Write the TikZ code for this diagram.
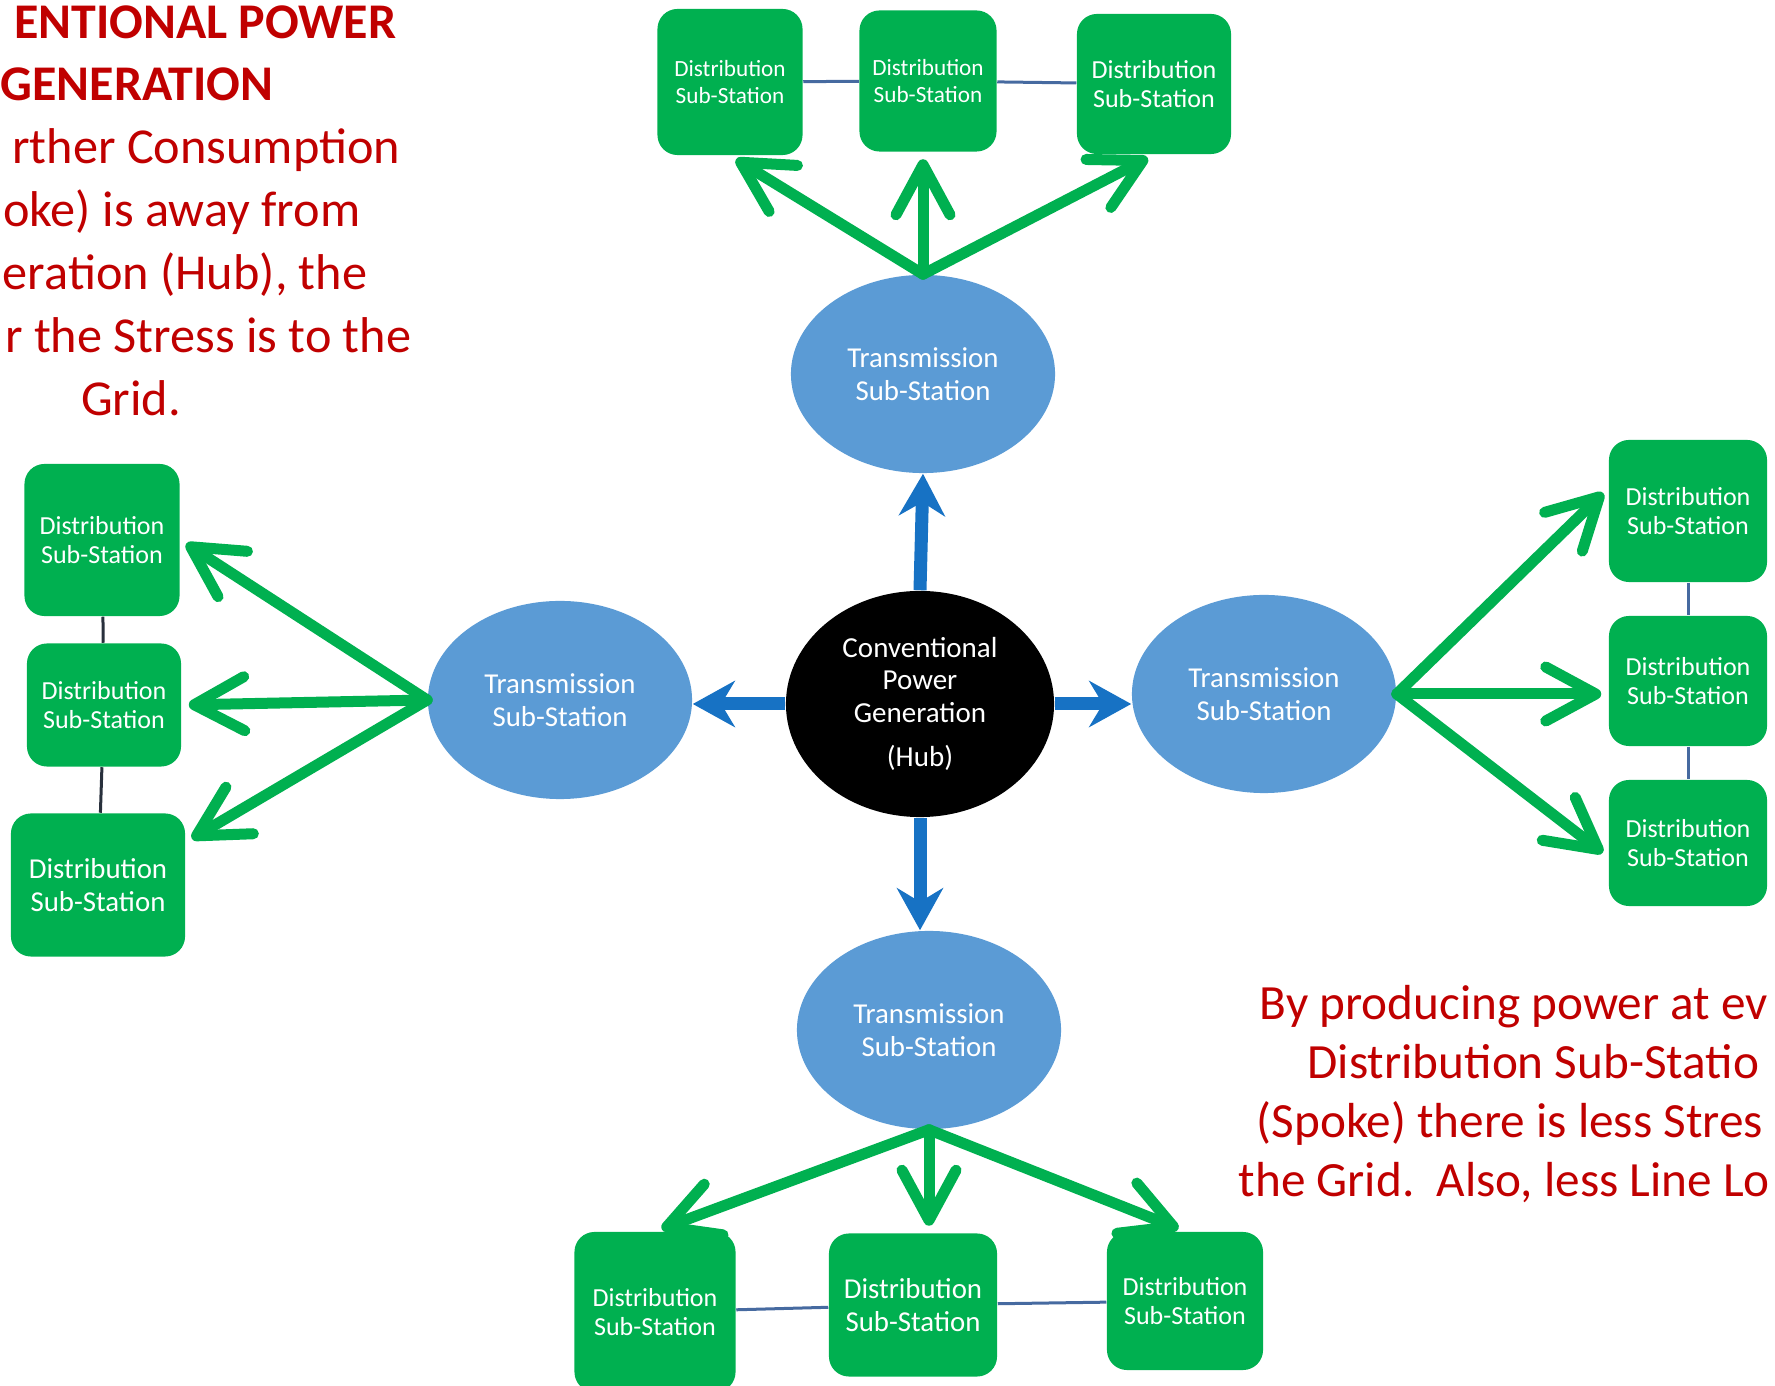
\documentclass[tikz,border=0pt]{standalone}
\usepackage{fontspec}
\setmainfont{Carlito}
\usepackage{xcolor}
\usepackage{tikz}
\usetikzlibrary{arrows.meta, shapes.geometric}

\definecolor{boxgreen}{RGB}{0,176,80}
\definecolor{ovalblue}{RGB}{91,155,213}
\definecolor{arrowblue}{RGB}{23,114,196}
\definecolor{notered}{RGB}{192,0,0}
\definecolor{linkblue}{RGB}{70,106,160}
\definecolor{linkdark}{RGB}{40,48,60}

\begin{document}
\begin{tikzpicture}[
      x=0.01cm, y=-0.01cm,
      box/.style={fill=boxgreen, text=white, rounded corners=0.2cm, align=center, inner sep=0pt, font=\fontsize{7.4}{8.4}\selectfont},
      small/.style={font=\fontsize{6.6}{7.7}\selectfont},
      big/.style={font=\fontsize{8.2}{9.4}\selectfont},
      oval/.style={ellipse, fill=ovalblue, text=white, align=center, inner sep=0pt, minimum width=2.64cm, minimum height=1.98cm, font=\fontsize{8.2}{9.4}\selectfont},
      feed/.style={draw=boxgreen, line width=0.11cm, line cap=round, line join=round, shorten >=0.07cm, -{Straight Barb[round, length=0.5cm, width=0.54cm]}},
      trunk/.style={draw=arrowblue, line width=0.13cm, -{Stealth[length=0.42cm, width=0.46cm]}},
      link/.style={draw=linkblue, line width=0.03cm},
      note/.style={text=notered, inner sep=0pt, font=\fontsize{14}{17}\selectfont},
      hubnote/.style={note, font=\fontsize{14.3}{17.4}\selectfont},
      title/.style={note, font=\fontsize{14.2}{17.3}\selectfont\bfseries}
    ]
    \useasboundingbox (0,0) rectangle (1775,1386);

    \node[ellipse, fill=black, text=white, align=center, inner sep=0pt, minimum width=2.68cm, minimum height=2.26cm, font=\fontsize{8.25}{9.2}\selectfont] (hub) at (920,704) {Conventional\\Power\\Generation\\[3.5pt](Hub)};

    \node[oval] (tsT) at (923,374) {Transmission\\Sub-Station};
    \node[oval] (tsL) at (560,700) {Transmission\\Sub-Station};
    \node[oval] (tsR) at (1264,694) {Transmission\\Sub-Station};
    \node[oval] (tsB) at (929,1030) {Transmission\\Sub-Station};

    \node[box, small, minimum width=1.45cm, minimum height=1.46cm] (dT1) at (730,82) {Distribution\\Sub-Station};
    \node[box, small, minimum width=1.37cm, minimum height=1.41cm] (dT2) at (928,81) {Distribution\\Sub-Station};
    \node[box, minimum width=1.54cm, minimum height=1.40cm] (dT3) at (1154,84) {Distribution\\Sub-Station};

    \node[box, minimum width=1.55cm, minimum height=1.52cm] (dL1) at (102,540) {Distribution\\Sub-Station};
    \node[box, minimum width=1.54cm, minimum height=1.23cm] (dL2) at (104,705) {Distribution\\Sub-Station};
    \node[box, big, minimum width=1.74cm, minimum height=1.43cm] (dL3) at (98,885) {Distribution\\Sub-Station};

    \node[box, minimum width=1.58cm, minimum height=1.42cm] (dR1) at (1688,511) {Distribution\\Sub-Station};
    \node[box, minimum width=1.58cm, minimum height=1.30cm] (dR2) at (1688,681) {Distribution\\Sub-Station};
    \node[box, minimum width=1.58cm, minimum height=1.26cm] (dR3) at (1688,843) {Distribution\\Sub-Station};

    \node[box, minimum width=1.61cm, minimum height=1.60cm] (dB1) at (655,1312) {Distribution\\Sub-Station};
    \node[box, big, minimum width=1.68cm, minimum height=1.43cm] (dB2) at (913,1305) {Distribution\\Sub-Station};
    \node[box, minimum width=1.56cm, minimum height=1.38cm] (dB3) at (1185,1301) {Distribution\\Sub-Station};

    \draw[link] (dT1) -- (dT2);
    \draw[link] (dT2) -- (dT3);
    \draw[link, draw=linkdark] (dL1) -- (dL2);
    \draw[link, draw=linkdark] (dL2) -- (dL3);
    \draw[link] (dR1) -- (dR2);
    \draw[link] (dR2) -- (dR3);
    \draw[link] (dB1) -- (dB2);
    \draw[link] (dB2) -- (dB3);

    \draw[trunk] (hub.north) -- (tsT.south);
    \draw[trunk] (hub.west) -- (hub.west -| tsL.east);
    \draw[trunk] (hub.east) -- (hub.east -| tsR.west);
    \draw[trunk] (hub.south) -- (tsB.north -| hub.south);

    \draw[feed] (tsT.north) -- (dT1.south);
    \draw[feed] (tsT.north) -- (tsT.north |- dT2.south);
    \draw[feed] (tsT.north) -- (dT3.south);
    \draw[feed] (tsL.west) -- (dL1.east);
    \draw[feed] (tsL.west) -- (dL2.east);
    \draw[feed] (tsL.west) -- (dL3.26);
    \draw[feed] (tsR.east) -- (dR1.164);
    \draw[feed] (tsR.east) -- (tsR.east -| dR2.west);
    \draw[feed] (tsR.east) -- (dR3.190);
    \draw[feed] (tsB.south) -- (dB1.north);
    \draw[feed] (tsB.south) -- (tsB.south |- dB2.north);
    \draw[feed] (tsB.south) -- (dB3.north);

    \node[title, anchor=base east] (hubTitle1) at (397,39) {ENTIONAL POWER};
    \node[title, anchor=base east] (hubTitle2) at (274,101) {GENERATION};
    \node[hubnote, anchor=base east] (hubNote1) at (401,164) {rther Consumption};
    \node[hubnote, anchor=base east] (hubNote2) at (361,227) {oke) is away from};
    \node[hubnote, anchor=base east] (hubNote3) at (368,290) {eration (Hub), the};
    \node[hubnote, anchor=base east] (hubNote4) at (412,353) {r the Stress is to the};
    \node[hubnote, anchor=base] (hubNote5) at (131,416) {Grid.};

    \node[note, anchor=base west] (spokeNote1) at (1259,1020) {By producing power at ev};
    \node[note, anchor=base west] (spokeNote2) at (1307,1079) {Distribution Sub-Statio};
    \node[note, anchor=base west] (spokeNote3) at (1256,1138) {(Spoke) there is less Stres};
    \node[note, anchor=base west] (spokeNote4) at (1238,1197) {the Grid.\ \ Also, less Line Lo};
  \end{tikzpicture}
\end{document}
